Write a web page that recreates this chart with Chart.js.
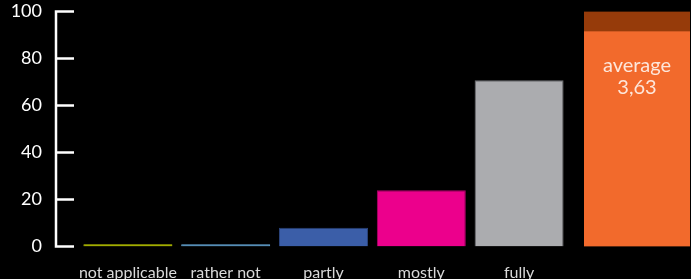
<!DOCTYPE html>
<html>
<head>
<meta charset="utf-8">
<script src="https://cdn.jsdelivr.net/npm/chart.js@4.4.1/dist/chart.umd.min.js"></script>
<style>
    html, body { margin: 0; padding: 0; background: #000; }
    #wrap { position: relative; width: 691px; height: 279px; overflow: hidden; background: #000; }
    #mainChart { position: absolute; left: 0; top: 0; }
    #avgChart { position: absolute; left: 575px; top: 0; }
</style>
</head>
<body>
<div id="wrap">
    <canvas id="mainChart" width="691" height="279"></canvas>
    <canvas id="avgChart" width="116" height="279"></canvas>
</div>
<script>
// answers in percent
const categories = ['not applicable', 'rather not', 'partly', 'mostly', 'fully'];
const shares = [1, 1, 8, 23.9, 70.7];
const barColors = ['#c8d400', '#6aaee0', '#3b5ea8', '#ec008c', '#abacaf'];
const barBorders = ['#c8d400', '#6aaee0', '#2a437a', '#b0006a', '#6d6e71'];
const yTicks = [0, 20, 40, 60, 80, 100];

// average score, shown as a filled column
const averageLabel = 'average';
const averageText = '3,63';
const averageFill = [91.5];
const averageRest = [8.5];

const fontFamily = 'Lato, "Open Sans", sans-serif';

// draws the y axis line with ticks pointing right, like the original
const axisPlugin = {
    id: 'axisLine',
    beforeDatasetsDraw(chart) {
        const ctx = chart.ctx;
        const y = chart.scales.y;
        const x0 = chart.chartArea.left - 23;
        ctx.save();
        ctx.strokeStyle = '#fff';
        ctx.lineWidth = 2.5;
        ctx.beginPath();
        ctx.moveTo(x0, y.getPixelForValue(100) - 1.25);
        ctx.lineTo(x0, y.getPixelForValue(0) + 1.25);
        yTicks.forEach(t => {
            const py = y.getPixelForValue(t);
            ctx.moveTo(x0, py);
            ctx.lineTo(x0 + 18, py);
        });
        ctx.stroke();
        ctx.restore();
    }
};

new Chart(document.getElementById('mainChart'), {
    type: 'bar',
    data: {
        labels: categories,
        datasets: [{
            data: shares,
            backgroundColor: barColors,
            borderColor: barBorders,
            borderWidth: 1,
            barPercentage: 0.91,
            categoryPercentage: 1
        }]
    },
    options: {
        responsive: false,
        animation: false,
        layout: { padding: { top: 11.5, right: 123, bottom: 0, left: 0 } },
        plugins: { legend: { display: false }, tooltip: { enabled: false } },
        scales: {
            x: {
                grid: { display: false, drawTicks: false },
                border: { display: false },
                ticks: { color: '#d9d9d9', font: { family: fontFamily, size: 16 }, padding: 17, maxRotation: 0, autoSkip: false },
                afterFit: scale => { scale.height = 32.5; }
            },
            y: {
                min: 0,
                max: 100,
                afterBuildTicks: scale => { scale.ticks = yTicks.map(v => ({ value: v })); },
                grid: { display: false, drawTicks: false },
                border: { display: false },
                ticks: { color: '#fff', font: { family: fontFamily, size: 18 }, padding: 37 },
                afterFit: scale => {
                    scale.width = 79;
                    // the big label padding should not push the plot down
                    scale.paddingTop = 0;
                    scale.paddingBottom = 0;
                }
            }
        }
    },
    plugins: [axisPlugin]
});

// text inside the orange column
const avgTextPlugin = {
    id: 'avgText',
    afterDatasetsDraw(chart) {
        const bar = chart.getDatasetMeta(0).data[0];
        const ctx = chart.ctx;
        ctx.save();
        ctx.fillStyle = '#fde6da';
        ctx.font = '20px ' + fontFamily;
        ctx.textAlign = 'center';
        ctx.textBaseline = 'middle';
        ctx.fillText(averageLabel, bar.x, bar.y + 34);
        ctx.fillText(averageText, bar.x, bar.y + 56);
        ctx.restore();
    }
};

new Chart(document.getElementById('avgChart'), {
    type: 'bar',
    data: {
        labels: [averageLabel],
        datasets: [
            { data: averageFill, backgroundColor: '#f26a2c', barPercentage: 1, categoryPercentage: 1 },
            { data: averageRest, backgroundColor: '#963b0a', barPercentage: 1, categoryPercentage: 1 }
        ]
    },
    options: {
        responsive: false,
        animation: false,
        layout: { padding: { top: 11.5, right: 1, bottom: 32.5, left: 9 } },
        plugins: { legend: { display: false }, tooltip: { enabled: false } },
        scales: {
            x: { display: false, stacked: true },
            y: { display: false, stacked: true, min: 0, max: 100 }
        }
    },
    plugins: [avgTextPlugin]
});
</script>
</body>
</html>
